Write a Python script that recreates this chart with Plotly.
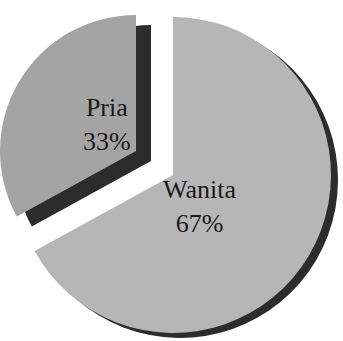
import plotly.graph_objects as go

labels = ["Wanita", "Pria"]
values = [67, 33]

W, H = 343, 341
FONT = "Liberation Serif"

face_colors = {"Wanita": "#b6b6b6", "Pria": "#a4a4a4"}
side_color = "#2c2c2c"


def dom(cx, cy, r):
    return dict(x=[(cx - r) / W, (cx + r) / W], y=[(H - (cy + r)) / H, (H - (cy - r)) / H])


def pie(visible_label, color, domain):
    cols = [color if l == visible_label else "rgba(0,0,0,0)" for l in labels]
    return go.Pie(
        labels=labels, values=values, sort=False, direction="clockwise", rotation=0,
        marker=dict(colors=cols, line=dict(width=0)), textinfo="none",
        hoverinfo="skip", domain=domain, showlegend=False,
    )


fig = go.Figure()
# Wanita: side (shadow) then face
fig.add_trace(pie("Wanita", side_color, dom(180, 180, 158)))
fig.add_trace(pie("Wanita", face_colors["Wanita"], dom(173, 175, 158)))
# Pria (exploded): side then face
fig.add_trace(pie("Pria", side_color, dom(151, 161, 136)))
fig.add_trace(pie("Pria", face_colors["Pria"], dom(136, 151, 136)))

total = sum(values)
text_pos = {"Pria": (81, 124), "Wanita": (238, 206)}
for l, v in zip(labels, values):
    x, y = text_pos[l]
    fig.add_annotation(
        x=x / W, y=1 - y / H, xref="paper", yref="paper", showarrow=False,
        text=f"{l}<br>{round(v / total * 100)}%",
        font=dict(family=FONT, size=26, color="#1a1a1a"), align="center",
    )

fig.update_layout(
    width=W, height=H, margin=dict(l=0, r=0, t=0, b=0),
    paper_bgcolor="white", plot_bgcolor="white", showlegend=False,
)
fig.write_html("out.html")
